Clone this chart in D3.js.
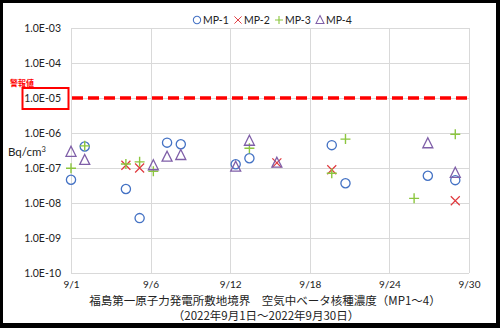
<!DOCTYPE html>
<html><head><meta charset="utf-8">
<script src="https://cdn.jsdelivr.net/npm/d3@7"></script>
<style>body{margin:0;background:#fff}svg{display:block}</style>
</head><body>
<script>
const days = [1,2,5,6,7,8,9,13,14,16,20,21,26,27,29];
const mp1 = [4.6e-8,4.1e-7,2.5e-8,3.7e-9,null,5.3e-7,4.75e-7,1.28e-7,1.9e-7,null,4.5e-7,3.66e-8,null,6.0e-8,4.5e-8];
const mp2 = [null,null,1.2e-7,1.0e-7,null,null,null,null,null,1.4e-7,8.9e-8,null,null,null,1.16e-8];
const mp3 = [9.8e-8,4.3e-7,1.3e-7,1.5e-7,8.1e-8,null,null,null,3.66e-7,null,7.1e-8,6.7e-7,1.36e-8,null,9.2e-7];
const mp4 = [2.9e-7,1.7e-7,null,null,1.2e-7,2.1e-7,2.35e-7,1.09e-7,6.0e-7,1.42e-7,null,null,null,5.1e-7,7.3e-8];
const seriesNames = ["MP-1","MP-2","MP-3","MP-4"];
const alarmValue = 1e-5;
const alarmLabel = "警報値";
const xTickLabels = ["9/1","9/6","9/12","9/18","9/24","9/30"];
const yTickValues = [1e-3,1e-4,1e-5,1e-6,1e-7,1e-8,1e-9,1e-10];
const yTickLabels = ["1.0E-03","1.0E-04","1.0E-05","1.0E-06","1.0E-07","1.0E-08","1.0E-09","1.0E-10"];
const yUnit = "Bq/cm";
const title1 = "福島第一原子力発電所敷地境界\u3000空気中ベータ核種濃度（MP1～4）";
const title2 = "（2022年9月1日～2022年9月30日）";

const W = 500, H = 328;
const L = 71, R = 469, T = 28, B = 273;
const svg = d3.select("body").append("svg").attr("width", W).attr("height", H);
svg.append("rect").attr("width", W).attr("height", H).attr("fill", "#000");
svg.append("rect").attr("x", 3).attr("y", 3).attr("width", 493).attr("height", 320).attr("fill", "#fff");

const x = d3.scaleLinear().domain([1, 30]).range([L, R]);
const y = d3.scaleLog().domain([1e-10, 1e-3]).range([B, T]);
const xTickVals = xTickLabels.map((d, i) => 1 + i * 29 / 5);

const font = "Lato, 'Liberation Sans', sans-serif";
// grid
const g = svg.append("g");
g.selectAll(".hg").data(yTickValues).join("line")
  .attr("x1", L).attr("x2", R).attr("y1", d => Math.round(y(d)) + 0.5).attr("y2", d => Math.round(y(d)) + 0.5)
  .attr("stroke", "#d9d9d9").attr("stroke-width", 1);
g.selectAll(".vg").data(xTickVals).join("line")
  .attr("y1", T).attr("y2", B).attr("x1", d => Math.round(x(d)) + 0.5).attr("x2", d => Math.round(x(d)) + 0.5)
  .attr("stroke", "#d9d9d9").attr("stroke-width", 1);

// y axis labels
const yAxis = d3.axisLeft(y).tickValues(yTickValues).tickFormat((d, i) => yTickLabels[i]).tickSize(0).tickPadding(10);
const ya = svg.append("g").attr("transform", `translate(${L},0)`).call(yAxis);
ya.select(".domain").remove();
ya.selectAll("text").attr("font-family", font).attr("font-size", 10.5).attr("fill", "#222");

const xAxis = d3.axisBottom(x).tickValues(xTickVals).tickFormat((d, i) => xTickLabels[i]).tickSize(0).tickPadding(8);
const xa = svg.append("g").attr("transform", `translate(0,${B})`).call(xAxis);
xa.select(".domain").remove();
xa.selectAll("text").attr("font-family", font).attr("font-size", 10).attr("fill", "#222");

// alarm line
svg.append("line").attr("x1", L + 1).attr("x2", R).attr("y1", y(alarmValue)).attr("y2", y(alarmValue))
  .attr("stroke", "#ff0000").attr("stroke-width", 3.5).attr("stroke-dasharray", "11,5");
svg.append("rect").attr("x", 22.5).attr("y", y(alarmValue) - 10).attr("width", 46).attr("height", 21)
  .attr("fill", "#fff").attr("stroke", "#ff0000").attr("stroke-width", 2);
svg.append("text").attr("x", 61).attr("y", y(alarmValue)).attr("dy", "0.35em").attr("text-anchor", "end")
  .attr("font-family", font).attr("font-size", 10.5).attr("fill", "#222").text(yTickLabels[2]);
svg.append("text").attr("x", 10).attr("y", 86).attr("font-family", "'Noto Sans CJK JP', sans-serif")
  .attr("font-size", 8).attr("font-weight", "bold").attr("fill", "#ff0000").text(alarmLabel);

// unit
const ut = svg.append("text").attr("x", 8).attr("y", 156).attr("font-family", font).attr("font-size", 11.5).attr("fill", "#222").text(yUnit);
ut.append("tspan").attr("dy", -4).attr("font-size", 7.5).text("3");

// markers
const colors = ["#4472c4", "#e0393e", "#8cc63f", "#7f5fa8"];
function marker(sel, k) {
  if (k === 0) {
    sel.append("circle").attr("r", 4.6).attr("fill", "none").attr("stroke", colors[0]).attr("stroke-width", 1.3);
  } else if (k === 1) {
    sel.append("path").attr("d", "M-4.5,-4.5L4.5,4.5M-4.5,4.5L4.5,-4.5").attr("fill", "none").attr("stroke", colors[1]).attr("stroke-width", 1.2);
  } else if (k === 2) {
    sel.append("path").attr("d", "M-5,0L5,0M0,-5L0,5").attr("fill", "none").attr("stroke", colors[2]).attr("stroke-width", 1.4);
  } else {
    sel.append("path").attr("d", "M0,-5.5L5,4.5L-5,4.5Z").attr("fill", "none").attr("stroke", colors[3]).attr("stroke-width", 1.3);
  }
}
const allSeries = [mp1, mp2, mp3, mp4];
[0, 1, 2, 3].forEach(k => {
  const pts = days.map((d, i) => ({d, v: allSeries[k][i]})).filter(p => p.v != null);
  pts.forEach(p => {
    const gg = svg.append("g").attr("transform", `translate(${x(p.d)},${y(p.v)})`);
    marker(gg, k);
  });
});

// legend
const legX = [197, 238, 279, 320];
seriesNames.forEach((n, k) => {
  const gg = svg.append("g").attr("transform", `translate(${legX[k]},20) scale(0.8)`);
  marker(gg, k);
  svg.append("text").attr("x", legX[k] + 6).attr("y", 20).attr("dy", "0.35em")
    .attr("font-family", font).attr("font-size", 10.5).attr("fill", "#222").text(n);
});

// title
svg.append("text").attr("x", 265).attr("y", 305).attr("text-anchor", "middle")
  .attr("font-family", "'Noto Sans CJK JP', sans-serif").attr("font-size", 11.5).attr("fill", "#222").text(title1);
svg.append("text").attr("x", 266).attr("y", 320).attr("text-anchor", "middle")
  .attr("font-family", "'Noto Sans CJK JP', sans-serif").attr("font-size", 11.5).attr("fill", "#222").text(title2);
</script>
</body></html>
